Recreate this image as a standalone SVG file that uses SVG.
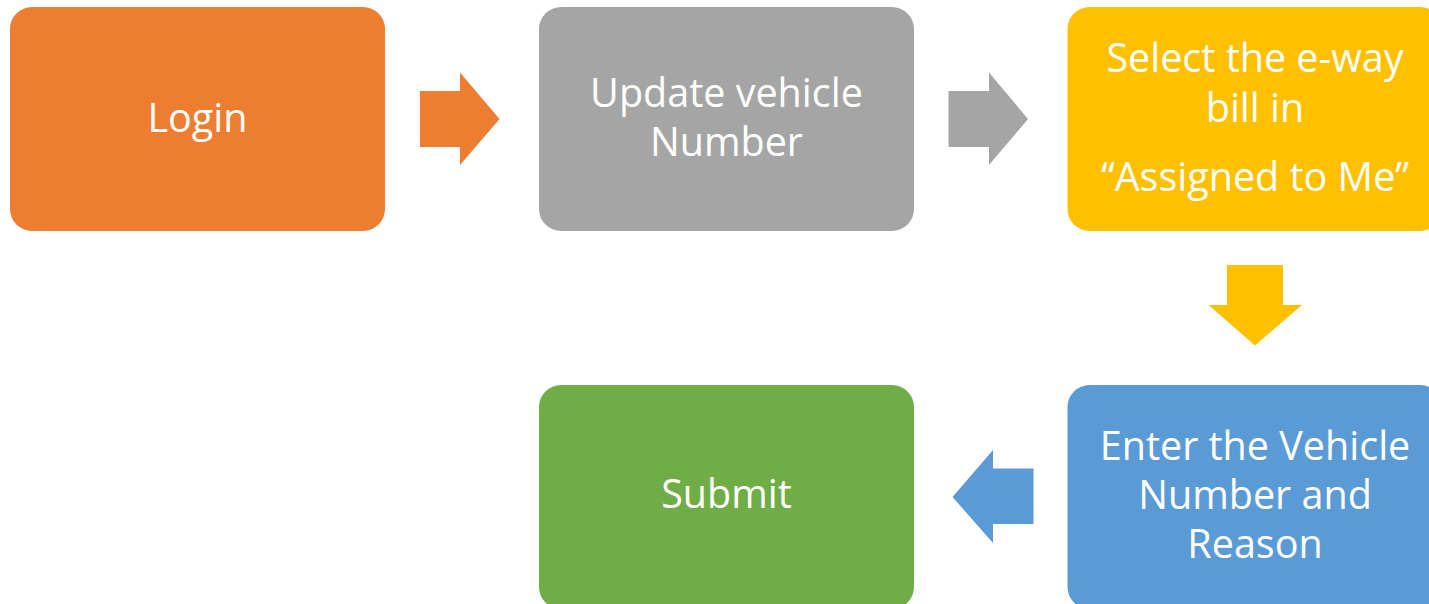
<svg xmlns="http://www.w3.org/2000/svg" width="1429" height="604" viewBox="0 0 1429 604">
<style>
.box{stroke:none}
.t{font-family:"Open Sans","Noto Sans","Liberation Sans",sans-serif;font-size:39.5px;fill:#ffffff;text-anchor:middle}
</style>
<rect width="1429" height="604" fill="#ffffff"/>
<g id="connectors">
<polygon fill="#ED7D31" points="420,91 460,91 460,72.5 499.5,119 460,165 460,147 420,147"/>
<polygon fill="#A5A5A5" points="948.5,91 989,91 989,72.5 1028,119 989,165 989,147 948.5,147"/>
<polygon fill="#FFC000" points="1227,265 1283,265 1283,305 1302,305 1255,345.5 1208.5,305 1227,305"/>
<polygon fill="#5B9BD5" points="1033.5,468.5 993,468.5 993,450 952.5,497 993,543 993,524 1033.5,524"/>
</g>
<g id="login">
<rect class="box" x="10" y="7" width="375" height="224" rx="22" fill="#ED7D31"/>
<text class="t" x="197.5" y="132">Login</text>
</g>
<g id="update">
<rect class="box" x="539" y="7" width="375" height="224" rx="22" fill="#A5A5A5"/>
<text class="t" x="726.5" y="107">Update vehicle</text>
<text class="t" x="726.5" y="156">Number</text>
</g>
<g id="select">
<rect class="box" x="1067.5" y="7" width="375" height="224" rx="22" fill="#FFC000"/>
<text class="t" x="1255" y="72">Select the e-way</text>
<text class="t" x="1255" y="122">bill in</text>
<text class="t" x="1255" y="191">“Assigned to Me”</text>
</g>
<g id="enter">
<rect class="box" x="1067.5" y="385" width="375" height="224" rx="22" fill="#5B9BD5"/>
<text class="t" x="1255" y="460">Enter the Vehicle</text>
<text class="t" x="1255" y="509">Number and</text>
<text class="t" x="1255" y="558">Reason</text>
</g>
<g id="submit">
<rect class="box" x="539" y="385" width="375" height="224" rx="22" fill="#70AD47"/>
<text class="t" x="726.5" y="508">Submit</text>
</g>
</svg>
